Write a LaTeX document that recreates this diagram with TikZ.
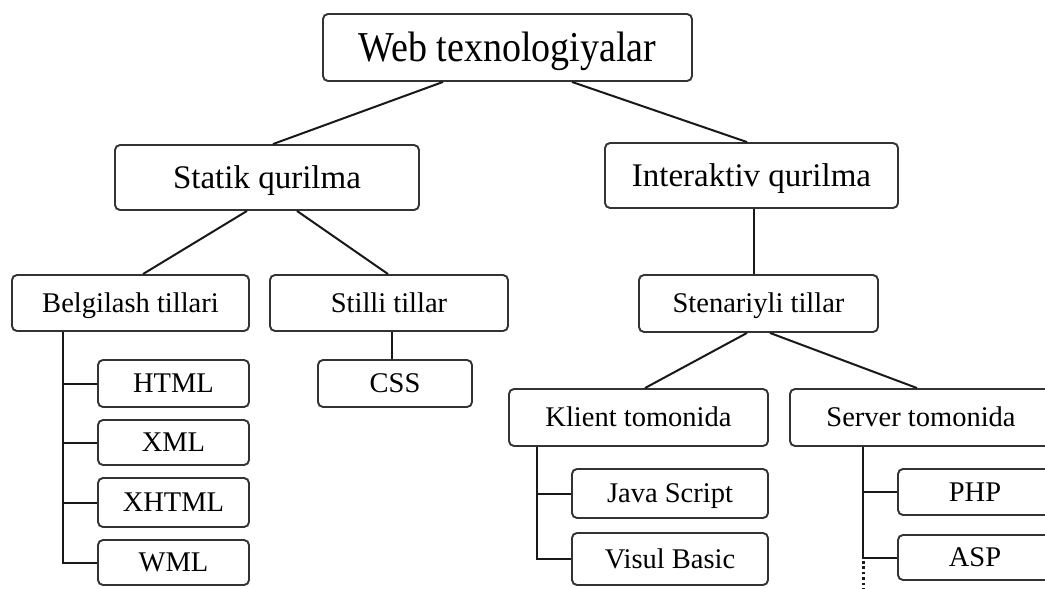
\documentclass[tikz,border=0pt]{standalone}
\usepackage{fontspec}
\setmainfont{Liberation Serif}
\begin{document}
\begin{tikzpicture}[x=1pt,y=-1pt,
  box/.style={draw=black!80, line width=1.9pt, rounded corners=5pt, fill=white,
              inner sep=0pt, anchor=center},
  lvlA/.style={box, font=\fontsize{38}{40}\selectfont, text height=30pt, text depth=2pt},
  lvlB/.style={box, font=\fontsize{33}{35}\selectfont, text height=24pt, text depth=2.2pt},
  lvlC/.style={box, font=\fontsize{28.5}{30}\selectfont, text height=21pt, text depth=2.2pt},
  link/.style={draw=black!90, line width=2pt},
  more/.style={draw=black!90, line width=3pt, dash pattern=on 2.6pt off 2.8pt}]
\clip (0,0) rectangle (1045,589);
\fill[white] (0,0) rectangle (1045,589);

% root
\node[lvlA, minimum width=369, minimum height=67] (web) at (507.5,47.5)
  {\scalebox{1}[1.12]{Web texnologiyalar}};

% second level
\node[lvlB, minimum width=304, minimum height=65] (statik) at (267,177.5) {Statik qurilma};
\node[lvlB, minimum width=293, minimum height=65] (inter) at (751.5,175.5) {Interaktiv qurilma};

% third level
\node[lvlC, minimum width=237, minimum height=56] (belg) at (130.5,303) {Belgilash tillari};
\node[lvlC, minimum width=238, minimum height=56] (stilli) at (389,303) {Stilli tillar};
\node[lvlC, minimum width=239, minimum height=57] (sten) at (758.5,303.5) {Stenariyli tillar};

% markup languages
\node[lvlC, minimum width=151, minimum height=47] (html) at (173.5,383.5) {HTML};
\node[lvlC, minimum width=151, minimum height=45] (xml) at (173.5,442.5) {XML};
\node[lvlC, minimum width=151, minimum height=49] (xhtml) at (173.5,502.5) {XHTML};
\node[lvlC, minimum width=151, minimum height=45] (wml) at (173.5,562.5) {WML};

% style languages
\node[lvlC, minimum width=154, minimum height=47] (css) at (395,383.5) {CSS};

% scripting: client and server side
\node[lvlC, minimum width=259, minimum height=57] (klient) at (638.5,417.5) {Klient tomonida};
\node[lvlC, minimum width=262, minimum height=57] (server) at (921,417.5) {Server tomonida};
\node[lvlC, minimum width=196, minimum height=49] (java) at (670,493.5) {Java Script};
\node[lvlC, minimum width=196, minimum height=52] (visul) at (670,559) {Visul Basic};
\node[lvlC, minimum width=154, minimum height=46] (php) at (975,492) {PHP};
\node[lvlC, minimum width=154, minimum height=45] (asp) at (975,557.5) {ASP};

% slanted connectors
\draw[link] ([xshift=-64.5]web.south) -- ([xshift=6]statik.north);
\draw[link] ([xshift=64.5]web.south) -- ([xshift=-4.5]inter.north);
\draw[link] ([xshift=-20]statik.south) -- ([xshift=12.5]belg.north);
\draw[link] ([xshift=30]statik.south) -- ([xshift=-1]stilli.north);
\draw[link] ([xshift=-11.5]sten.south) -- ([xshift=6.5]klient.north);
\draw[link] ([xshift=11.5]sten.south) -- ([xshift=-4]server.north);

% straight connectors
\draw[link] ([xshift=3]stilli.south) -- ([xshift=-3]css.north);
\draw[link] ([xshift=2]inter.south) -- ([xshift=-5]sten.north);

% tree spines
\coordinate (bspine) at ([xshift=-67.5]belg.south);
\draw[link] (bspine) |- (wml.west);
\foreach \n in {html,xml,xhtml} \draw[link] (\n.west) -- (\n.west -| bspine);

\coordinate (kspine) at ([xshift=-101.5]klient.south);
\draw[link] (kspine) |- (visul.west);
\draw[link] (java.west) -- (java.west -| kspine);

\coordinate (sspine) at ([xshift=-58]server.south);
\draw[link] (sspine) |- (asp.west);
\draw[link] (php.west) -- (php.west -| sspine);
\coordinate (send) at (863,600);
\draw[more] ([yshift=-3.5]asp.west -| sspine) -- (send);
\end{tikzpicture}
\end{document}
